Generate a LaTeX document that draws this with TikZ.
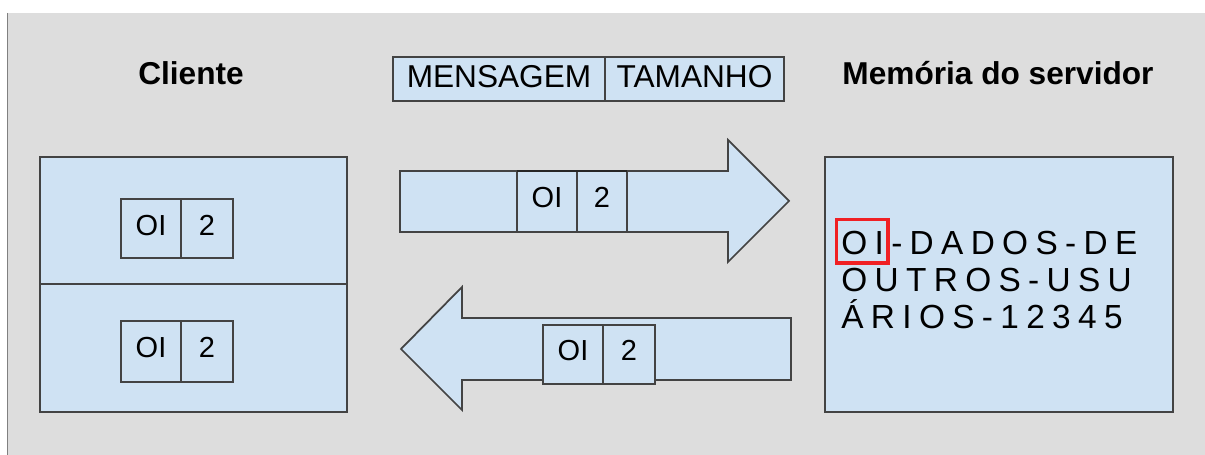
\documentclass[tikz,border=0pt]{standalone}
\usepackage{fontspec}
\setmainfont{Liberation Sans}
\definecolor{bggrey}{RGB}{221,221,221}
\definecolor{boxblue}{RGB}{207,226,243}
\definecolor{bordc}{RGB}{67,67,67}
\definecolor{hired}{RGB}{240,32,36}
\begin{document}
\begin{tikzpicture}[x=0.02cm,y=-0.02cm,
  shape box/.style={draw=bordc,fill=boxblue,line width=1pt,line join=miter},
  divline/.style={draw=bordc,line width=1pt},
  celltxt/.style={inner sep=0,text height=0.716em,text depth=0pt,font=\fontsize{16.5}{19}\selectfont},
  hdrtxt/.style={inner sep=0,text height=0.716em,text depth=0pt,font=\fontsize{18}{21}\selectfont},
  titletxt/.style={inner sep=0,anchor=base,font=\fontsize{18}{21}\selectfont\bfseries},
  memtxt/.style={inner sep=0,anchor=base west,font=\fontsize{19}{23}\selectfont\addfontfeature{LetterSpace=22}},
  hibox/.style={draw=hired,line width=2pt}]
\useasboundingbox (0,0) rectangle (1205,455);
% background
\fill[bggrey] (8,13) rectangle (1205,455);
\draw[gray,line width=0.6pt] (7.5,13) -- (7.5,455);

% titles
\node[titletxt] (tcli) at (191,85) {Cliente};
\node[titletxt] (tmem) at (998,85) {Memória do servidor};

% header MENSAGEM | TAMANHO
\draw[shape box] (393,57) rectangle (784,101);
\draw[divline] (605,57) -- (605,101);
\node[hdrtxt] (hmsg) at (499,81) {MENSAGEM};
\node[hdrtxt] (htam) at (694.5,81) {TAMANHO};

% client box
\draw[shape box] (40,157) rectangle (347,412);
\draw[divline] (40,284) -- (347,284);
% upper cell
\draw[shape box] (121,199) rectangle (233,258);
\draw[divline] (181,199) -- (181,258);
\node[celltxt] (c1a) at (151,229) {OI};
\node[celltxt] (c1b) at (207,229) {2};
% lower cell
\draw[shape box] (121,321) rectangle (233,382);
\draw[divline] (181,321) -- (181,382);
\node[celltxt] (c2a) at (151,351.5) {OI};
\node[celltxt] (c2b) at (207,351.5) {2};

% right arrow
\draw[shape box] (400,171) -- (728,171) -- (728,140) -- (789,201) -- (728,262) -- (728,232) -- (400,232) -- cycle;
\draw[shape box] (517,171) rectangle (627,232);
\draw[divline] (577,171) -- (577,232);
\draw[draw=black!85,line width=1.4pt] (517,171) -- (627,171);
\node[celltxt] (c3a) at (547,201.5) {OI};
\node[celltxt] (c3b) at (602,201.5) {2};

% left arrow
\draw[shape box] (401,349) -- (462,287) -- (462,318) -- (791,318) -- (791,380) -- (462,380) -- (462,410) -- cycle;
\draw[shape box] (543,325) rectangle (655,384);
\draw[divline] (603,325) -- (603,384);
\node[celltxt] (c4a) at (573,354.5) {OI};
\node[celltxt] (c4b) at (629,354.5) {2};

% server memory box
\draw[shape box] (825,157) rectangle (1173,412);
\node[memtxt] (m1) at (841,255) {OI-DADOS-DE};
\node[memtxt] (m2) at (841,292) {OUTROS-USU};
\node[memtxt] (m3) at (841,329) {ÁRIOS-12345};
\draw[hibox] (836.5,219.5) rectangle (888,263);
\end{tikzpicture}
\end{document}
